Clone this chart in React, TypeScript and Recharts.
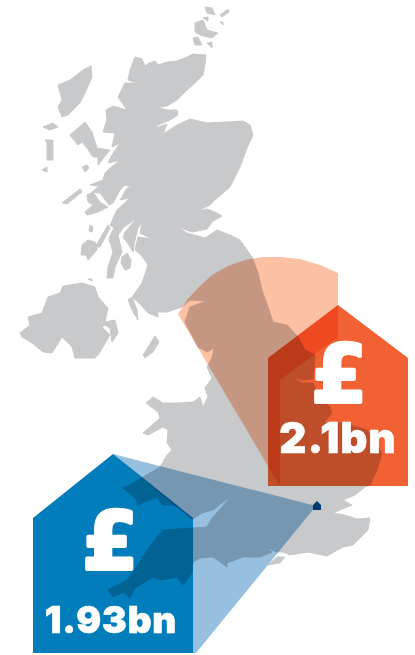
import { ScatterChart, Scatter, XAxis, YAxis } from "recharts";

type Pair = [number, number];

const mainland: Pair[] = [
  [135, 57], [142, 59], [145, 66], [149, 63], [155, 61], [158, 65], [167, 62], [177, 61], [187, 57], [193, 54], [206, 55], [205, 65], [203, 75], [195, 83], [185, 92], [177, 100], [167, 106], [158, 107], [167, 110], [177, 110], [178, 115], [170, 120], [158, 125], [156, 128], [167, 124], [163, 134], [177, 125], [190, 119], [207, 123], [227, 122], [243, 121], [250, 125], [253, 135], [247, 148], [240, 167], [237, 173], [230, 187], [215, 200], [210, 205], [197, 211], [207, 209], [215, 212], [222, 216], [212, 222], [207, 229], [192, 232], [178, 227], [187, 233], [205, 238], [217, 230], [230, 235], [240, 240], [252, 257], [258, 273], [262, 290], [268, 307], [273, 322], [287, 325], [298, 337], [305, 350], [315, 355], [313, 379], [302, 380], [292, 377], [302, 383], [313, 383], [318, 395], [330, 407], [332, 413], [323, 423], [343, 423], [367, 430], [382, 453], [377, 470], [370, 485], [365, 487], [355, 495], [343, 500], [352, 505], [340, 510], [333, 513], [345, 515], [357, 519], [370, 518], [368, 530], [353, 545], [343, 547], [327, 556], [308, 552], [290, 555], [283, 552], [277, 552], [265, 547], [272, 552], [260, 557], [243, 557], [227, 563], [227, 567], [213, 557], [200, 558], [193, 562], [192, 573], [183, 585], [177, 577], [162, 580], [153, 577], [135, 588], [130, 598], [123, 592], [113, 597], [108, 590], [113, 587], [127, 580], [133, 572], [152, 543], [163, 530], [193, 528], [207, 527], [212, 518], [222, 507], [230, 497], [222, 503], [213, 510], [202, 513], [193, 519], [180, 508], [172, 505], [162, 505], [157, 497], [138, 505], [135, 498], [123, 488], [135, 482], [143, 477], [160, 467], [167, 455], [172, 450], [167, 443], [168, 430], [163, 427], [148, 435], [143, 433], [160, 418], [158, 412], [146, 403], [153, 397], [163, 403], [177, 403], [193, 402], [200, 397], [203, 407], [208, 397], [217, 402], [208, 397], [205, 388], [212, 378], [207, 367], [212, 358], [214, 348], [207, 352], [198, 347], [192, 335], [185, 322], [190, 307], [207, 301], [190, 300], [182, 307], [167, 312], [158, 312], [157, 305], [158, 317], [148, 313], [138, 302], [132, 297], [128, 300], [132, 310], [138, 320], [137, 310], [132, 297], [142, 283], [148, 265], [142, 256], [135, 250], [138, 237], [152, 239], [140, 233], [142, 222], [138, 228], [135, 240], [133, 252], [127, 242], [123, 238], [125, 232], [137, 218], [123, 228], [118, 235], [122, 252], [115, 267], [113, 278], [107, 278], [108, 267], [113, 252], [110, 242], [109, 238], [114, 228], [110, 225], [117, 210], [130, 198], [120, 200], [127, 188], [133, 187], [125, 185], [128, 182], [120, 190], [113, 203], [109, 205], [100, 193], [92, 192], [98, 187], [113, 188], [105, 187], [90, 185], [103, 180], [105, 173], [108, 170], [120, 160], [108, 163], [112, 155], [120, 143], [112, 147], [115, 133], [103, 132], [107, 120], [106, 110], [113, 106], [127, 110], [118, 97], [125, 83], [137, 83], [128, 80], [130, 70],
];
const northernIreland: Pair[] = [
  [20, 333], [30, 325], [28, 317], [42, 313], [48, 297], [60, 293], [63, 286], [82, 283], [95, 287], [98, 297], [108, 308], [105, 322], [115, 320], [118, 333], [112, 342], [110, 328], [105, 325], [102, 327], [110, 335], [100, 352], [95, 358], [75, 358], [72, 347], [62, 337], [52, 353], [43, 352], [32, 343], [22, 337],
];
const islands: Pair[][] = [
  [[87, 195], [93, 192], [100, 202], [108, 207], [98, 212], [87, 215], [85, 212], [93, 205], [88, 202]],
  [[62, 203], [80, 189], [82, 192], [67, 204]],
  [[95, 247], [108, 225], [110, 228], [100, 247]],
  [[82, 245], [88, 240], [95, 242], [97, 250], [88, 260], [86, 255], [81, 255]],
  [[90, 225], [93, 227], [92, 232], [89, 231]],
  [[122, 257], [127, 253], [131, 260], [130, 268], [125, 270], [121, 263]],
  [[143, 355], [155, 336], [159, 342], [153, 352], [145, 358]],
  [[88, 279], [92, 279], [92, 281]],
  [[70, 135], [85, 122], [92, 132], [95, 142], [97, 148], [110, 150], [98, 165], [98, 157], [93, 157], [87, 148], [82, 142], [78, 145]],
  [[82, 167], [87, 165], [89, 168], [85, 172]],
  [[58, 85], [70, 80], [83, 70], [91, 66], [92, 77], [85, 93], [80, 103], [68, 115], [62, 117], [58, 107], [62, 100]],
  [[43, 127], [53, 123], [58, 127], [50, 130]],
  [[45, 140], [53, 140], [53, 160], [47, 160], [47, 143]],
  [[42, 170], [47, 167], [47, 172]],
  [[195, 23], [203, 20], [207, 30], [218, 33], [212, 38], [200, 35], [195, 32]],
  [[193, 38], [198, 37], [202, 45], [195, 45]],
  [[207, 43], [212, 42], [212, 48]],
  [[205, 7], [212, 8], [215, 15], [207, 13]],
  [[220, 15], [228, 9], [229, 12], [222, 17]],
  [[220, 22], [223, 22], [223, 25]],
  [[203, 18], [208, 17], [208, 21]],
  [[268, 565], [277, 557], [285, 557], [280, 563]],
];

const orangeCone: Pair[] = [
  [178, 314], [187, 300], [198, 288], [212, 275], [228, 266], [245, 260], [262, 257], [280, 257], [300, 259], [320, 265], [338, 273], [338, 337], [280, 380], [280, 486], [268, 466],
];
const blueCone: Pair[] = [
  [113, 454], [316, 506], [196, 653], [193, 653], [193, 520], [190, 518],
];
const orangeHouse: Pair[] = [[268, 358], [338, 305], [408, 358], [408, 486], [268, 486]];
const blueHouse: Pair[] = [[33, 518], [113, 454], [193, 518], [193, 653], [33, 653]];
const londonMarker: Pair[] = [[313, 505], [317, 501], [321, 505], [321, 510], [313, 510]];

const orangeAmount = ["2.1bn"];
const blueAmount = ["1.93bn"];
const orangeAmountAnchor: Pair[] = [[338, 453]];
const blueAmountAnchor: Pair[] = [[111, 633]];
const poundAnchors: Pair[] = [[339, 402], [110, 569]];

const MAP_GREY = "#c8c9cb";
const AMOUNT_FONT = "Inter, 'Liberation Sans', sans-serif";
const POUND_FONT = "'DejaVu Sans', sans-serif";

const toPoints = (pairs: Pair[]) => pairs.map(([x, y]) => ({ x, y }));
const noDot = () => null;

function polygonLine(fill: string, multiply: boolean, edge: number) {
  return (props: any) => (
    <path
      d={
        "M" +
        props.points.map((p: any) => `${p.x},${p.y}`).join("L") +
        "Z"
      }
      fill={fill}
      stroke={edge > 0 ? fill : "none"}
      strokeWidth={edge}
      strokeLinejoin="round"
      style={multiply ? { mixBlendMode: "multiply" } : undefined}
    />
  );
}

const region = (key: string, pairs: Pair[], fill: string, multiply = false, edge = 0) => (
  <Scatter
    key={key}
    data={toPoints(pairs)}
    dataKey="y"
    isAnimationActive={false}
    shape={noDot}
    line={polygonLine(fill, multiply, edge)}
    lineType="joint"
  />
);

const textShape = (size: number, font: string, heavy: number, spacing = 0) => (props: any) =>
  (
    <text
      x={props.cx}
      y={props.cy}
      textAnchor="middle"
      fill="#ffffff"
      stroke="#ffffff"
      strokeWidth={heavy}
      strokeLinejoin="round"
      fontFamily={font}
      fontWeight={font === POUND_FONT ? 700 : 900}
      fontSize={size}
      letterSpacing={spacing}
    >
      {props.payload.label}
    </text>
  );

const amountData = (anchors: Pair[], labels: string[]) =>
  anchors.map(([x, y], i) => ({ x, y, label: labels[i] }));

export default function App() {
  return (
    <div style={{ position: "absolute", left: 0, top: 0, width: 415, height: 655 }}>
      <ScatterChart width={415} height={655} margin={{ top: 0, right: 0, bottom: 0, left: 0 }}>
        <XAxis type="number" dataKey="x" domain={[0, 415]} hide />
        <YAxis type="number" dataKey="y" domain={[0, 655]} reversed hide />
        {region("mainland", mainland, MAP_GREY, false, 1)}
        {region("ni", northernIreland, MAP_GREY, false, 1)}
        {islands.map((isl, i) => region(`island-${i}`, isl, MAP_GREY, false, 1))}
        {region("orange-cone", orangeCone, "#fcc0a3", true)}
        {region("blue-cone", blueCone, "#97c0e0", true)}
        {region("orange-house", orangeHouse, "#f26133", true)}
        {region("blue-house", blueHouse, "#007dba", true)}
        {region("london", londonMarker, "#003a70")}
        <Scatter
          data={amountData(orangeAmountAnchor, orangeAmount)}
          isAnimationActive={false}
          shape={textShape(42, AMOUNT_FONT, 0.6, 1)}
        />
        <Scatter
          data={amountData(blueAmountAnchor, blueAmount)}
          isAnimationActive={false}
          shape={textShape(37, AMOUNT_FONT, 0.6, 0.8)}
        />
        <Scatter
          data={poundAnchors.map(([x, y]) => ({ x, y, label: "£" }))}
          isAnimationActive={false}
          shape={textShape(80, POUND_FONT, 4)}
        />
      </ScatterChart>
    </div>
  );
}
